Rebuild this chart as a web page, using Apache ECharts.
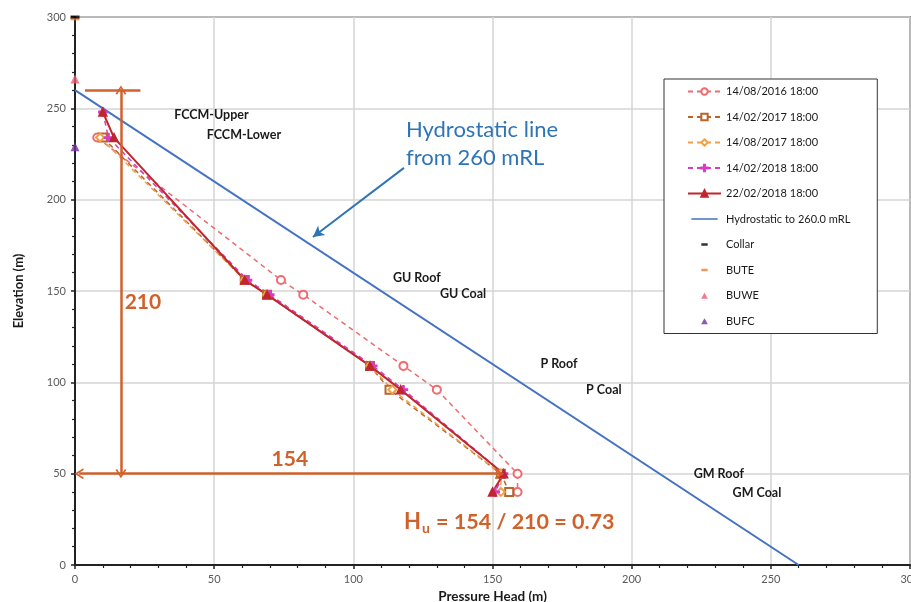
<!DOCTYPE html>
<html><head><meta charset="utf-8">
<script src="https://cdn.jsdelivr.net/npm/echarts@6/dist/echarts.min.js"></script>
<style>html,body{margin:0;padding:0;background:#fff}#c{width:911px;height:602px}</style>
</head><body><div id="c"></div>
<script>
// ---- data ----
const seriesNames = ['14/08/2016 18:00','14/02/2017 18:00','14/08/2017 18:00','14/02/2018 18:00','22/02/2018 18:00'];
const elev2016Aug = [234,156,148,109,96,50,40];
const head2016Aug = [8,74,82,118,130,159,159];
const elev2017Feb = [234,156,148,109,96,50,40];
const head2017Feb = [10,61,69,106,113,153,156];
const elev2017Aug = [234,156,148,109,96,50,40];
const head2017Aug = [9,61,69,106,114,153,153];
const elev2018Feb = [248,234,156,148,109,96,50,40];
const head2018Feb = [10,12,62,70,107,118,154,151];
const elev2018Feb22 = [248,234,156,148,109,96,50,40];
const head2018Feb22 = [10,14,61,69,106,117,154,150];
const hydroHead = [0,260];
const hydroElev = [260,0];
const collarPt = [0,300];
const butePt = [0,299];
const buwePt = [0,266];
const bufcPt = [0,229];
const xTicks = {min:0,max:300,interval:50};
const yTicks = {min:0,max:300,interval:50};
// formation labels: [text, pressure head, elevation]
const formationText = ['FCCM-Upper','FCCM-Lower','GU Roof','GU Coal','P Roof','P Coal','GM Roof','GM Coal'];
const formationX = [49,60.7,122.8,139.4,173.9,190,231.3,245];
const formationY = [246.5,235.4,157,148.4,110,95.8,50,39.5];

const zip = (h,e)=>h.map((v,i)=>[v,e[i]]);
const FONT = 'Lato';
const ORANGE = '#d0612b';
const BLUE = '#2e75b6';
const chev = 'path://M0,10 L5,0 L10,10 L8.4,10.6 L5,3.2 L1.6,10.6 Z';
const dashIcon = 'path://M0,0 L0.01,0 Z M33,10 L33.01,10 Z M12.5,3.5 L20.5,3.5 L20.5,6.5 L12.5,6.5 Z';
const triIcon = 'path://M0,0 L0.01,0 Z M33,10 L33.01,10 Z M16.5,1.5 L20.7,9 L12.3,9 Z';
const lineIcon = 'path://M0,0 L0.01,0 Z M33,10 L33.01,10 Z M0,4.1 L33,4.1 L33,5.9 L0,5.9 Z';

const chart = echarts.init(document.getElementById('c'));
function lineSeries(name, data, color, symbol, dashed, width){
  return {name, type:'line', data, symbol, symbolSize:8, showSymbol:true,
    lineStyle:{color, width:width||1.5, type:dashed?[5,4]:'solid'},
    itemStyle:{color, borderColor:color, borderWidth:1.5}, z:3};
}
const plus = 'path://M4.2,0 h1.6 v4.2 h4.2 v1.6 h-4.2 v4.2 h-1.6 v-4.2 h-4.2 v-1.6 h4.2 z';
chart.setOption({
  animation:false,
  grid:{left:75,right:1,top:17,bottom:37,show:true,borderColor:'#3a3a3a',borderWidth:1.5,
    containLabel:false,outerBoundsMode:'none'},
  xAxis:{type:'value',min:xTicks.min,max:xTicks.max,interval:xTicks.interval,
    name:'Pressure Head (m)',nameLocation:'middle',nameGap:19,
    nameTextStyle:{fontFamily:FONT,fontWeight:'bold',fontSize:13.5,color:'#1a1a1a'},
    axisLine:{lineStyle:{color:'#222',width:2}},
    axisTick:{show:true,length:4,lineStyle:{color:'#222',width:1.5}},
    minorTick:{show:true,splitNumber:5,length:3,lineStyle:{color:'#222',width:1.2}},
    axisLabel:{fontFamily:FONT,fontSize:11,color:'#595959',margin:9},
    splitLine:{lineStyle:{color:'#d4d4d4',width:1.5}}},
  yAxis:{type:'value',min:yTicks.min,max:yTicks.max,interval:yTicks.interval,
    name:'Elevation (m)',nameLocation:'middle',nameGap:50,
    nameTextStyle:{fontFamily:FONT,fontWeight:'bold',fontSize:13,color:'#1a1a1a'},
    axisLine:{lineStyle:{color:'#222',width:2}},
    axisTick:{show:true,length:4,lineStyle:{color:'#222',width:1.5}},
    minorTick:{show:true,splitNumber:5,length:3,lineStyle:{color:'#222',width:1.2}},
    axisLabel:{fontFamily:FONT,fontSize:11,color:'#595959',margin:9},
    splitLine:{lineStyle:{color:'#d4d4d4',width:1.5}}},
  legend:{orient:'vertical',left:664,top:79,
    padding:[7,27,7,23],itemGap:14.5,itemWidth:33,itemHeight:8,
    backgroundColor:'#fff',borderColor:'#333',borderWidth:1,
    textStyle:{fontFamily:FONT,fontSize:11,color:'#1a1a1a'},
    data:[seriesNames[0],seriesNames[1],seriesNames[2],seriesNames[3],seriesNames[4],
      {name:'Hydrostatic to 260.0 mRL',icon:lineIcon},
      {name:'Collar',icon:dashIcon},{name:'BUTE',icon:dashIcon},
      {name:'BUWE',icon:triIcon},{name:'BUFC',icon:triIcon}]},
  series:[
    lineSeries(seriesNames[0], zip(head2016Aug,elev2016Aug), '#f06a6e','emptyCircle',true),
    lineSeries(seriesNames[1], zip(head2017Feb,elev2017Feb), '#b8652a','emptyRect',true),
    lineSeries(seriesNames[2], zip(head2017Aug,elev2017Aug), '#f0a048','emptyDiamond',true),
    lineSeries(seriesNames[3], zip(head2018Feb,elev2018Feb), '#d63cc4',plus,true),
    lineSeries(seriesNames[4], zip(head2018Feb22,elev2018Feb22), '#c0262e','triangle',false,2),
    {name:'Hydrostatic to 260.0 mRL',type:'line',data:zip(hydroHead,hydroElev),symbol:'none',
      lineStyle:{color:'#4472c4',width:2},itemStyle:{color:'#4472c4'},z:2,
      markLine:{silent:true,animation:false,symbol:['none','none'],label:{show:false},
        emphasis:{disabled:true},
        data:[
          [{coord:[3.6,260],lineStyle:{color:ORANGE,width:2.5,type:'solid'}},{coord:[23.5,260]}],
          [{coord:[16.5,260],symbol:chev,symbolSize:[11,9],lineStyle:{color:ORANGE,width:2.5,type:'solid'}},
           {coord:[16.5,50],symbol:chev,symbolSize:[11,9]}],
          [{coord:[1.5,50],symbol:chev,symbolSize:[11,9],lineStyle:{color:ORANGE,width:2.5,type:'solid'}},
           {coord:[152.5,50],symbol:chev,symbolSize:[11,9]}],
          [{coord:[118.2,217.4],symbol:'none',lineStyle:{color:BLUE,width:2,type:'solid'}},
           {coord:[85.5,179.6],symbol:'arrow',symbolSize:[9,11]}]
        ]}},
    {name:'Collar',type:'scatter',data:[collarPt],symbol:'rect',symbolSize:[9,3],itemStyle:{color:'#000'},z:5},
    {name:'BUTE',type:'scatter',data:[butePt],symbol:'rect',symbolSize:[9,3],itemStyle:{color:'#ed7d31'},z:4},
    {name:'BUWE',type:'scatter',data:[buwePt],symbol:'triangle',symbolSize:9,itemStyle:{color:'#f05a6a'},z:4},
    {name:'BUFC',type:'scatter',data:[bufcPt],symbol:'triangle',symbolSize:9,itemStyle:{color:'#7030a0'},z:4}
  ]
});

const P = (x,y)=>chart.convertToPixel({gridIndex:0},[x,y]);
const g = [];
formationText.forEach((t,i)=>{
  const p = P(formationX[i],formationY[i]);
  g.push({type:'text',x:p[0],y:p[1],z:10,style:{text:t,fill:'#1a1a1a',font:'bold 12.5px '+FONT,align:'center',verticalAlign:'middle'}});
});
let p = P(24.4,144);
g.push({type:'text',x:p[0],y:p[1],z:10,style:{text:'210',fill:ORANGE,font:'bold 21px '+FONT,align:'center',verticalAlign:'middle'}});
p = P(77.2,58);
g.push({type:'text',x:p[0],y:p[1],z:10,style:{text:'154',fill:ORANGE,font:'bold 21px '+FONT,align:'center',verticalAlign:'middle'}});
p = P(118.2,23.6);
g.push({type:'text',x:p[0],y:p[1],z:10,style:{
  text:'{h|H}{u|u}{t| = 154 / 210 = 0.73}',align:'left',verticalAlign:'middle',
  rich:{h:{fontSize:22,fontWeight:'bold',fontFamily:FONT,fill:ORANGE},
        u:{fontSize:14,fontWeight:'bold',fontFamily:FONT,fill:ORANGE,padding:[14,1,0,1]},
        t:{fontSize:21.5,fontWeight:'bold',fontFamily:FONT,fill:ORANGE}}}});
p = P(118.9,230.5);
g.push({type:'text',x:p[0],y:p[1],z:10,style:{text:'Hydrostatic line\nfrom 260 mRL',fill:BLUE,font:'22px '+FONT,lineHeight:28,align:'left',verticalAlign:'middle'}});
chart.setOption({graphic:g});
</script></body></html>
